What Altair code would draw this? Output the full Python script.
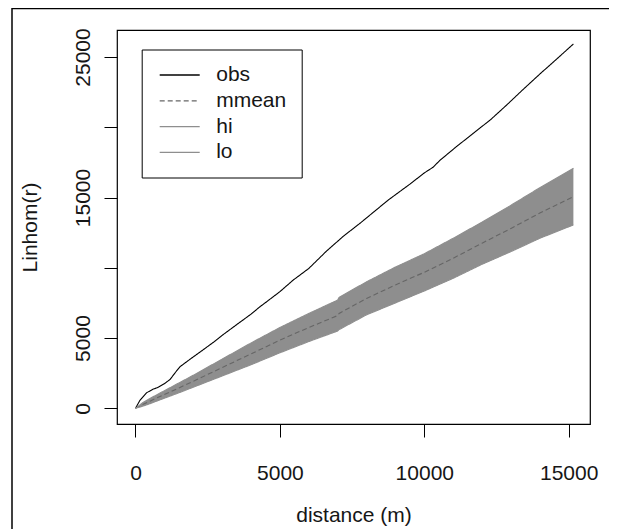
import altair as alt
import pandas as pd

# ---- data ----
obs_x = [0, 150, 388, 600, 790, 1000, 1195, 1400, 1541, 1887, 2300, 2700, 3040, 3500, 4000,
         4311, 4543, 5000, 5464, 6000, 6620, 7200, 7773, 8753, 9500, 10000, 10300, 10543,
         11100, 11697, 12300, 12853, 13400, 14007, 14500, 15162]
obs_y = [0, 550, 1110, 1350, 1500, 1750, 2050, 2600, 2960, 3487, 4100, 4700, 5250, 5950, 6700,
         7230, 7587, 8300, 9130, 9950, 11200, 12250, 13165, 14823, 15950, 16750, 17150, 17650,
         18600, 19570, 20550, 21584, 22650, 23800, 24700, 25925]

env_x = [0, 250, 500, 1000, 1500, 2000, 3000, 4000, 5000, 6000, 7000, 7050, 8000, 9000,
         10000, 11000, 12000, 13000, 14000, 15162]
env_hi = [0, 400, 700, 1250, 1800, 2350, 3500, 4650, 5750, 6750, 7700, 7900, 9000, 10050,
          11000, 12100, 13250, 14450, 15700, 17080]
env_lo = [0, 150, 330, 720, 1100, 1500, 2300, 3100, 3950, 4750, 5500, 5600, 6650, 7500,
          8350, 9250, 10250, 11150, 12100, 13050]
env_mean = [0, 270, 510, 980, 1450, 1920, 2900, 3870, 4850, 5750, 6600, 6750, 7820, 8780,
            9680, 10680, 11750, 12800, 13900, 15060]

series_names = ["obs", "mmean", "hi", "lo"]
x_ticks = [0, 5000, 10000, 15000]
y_ticks = [0, 5000, 10000, 15000, 20000, 25000]

# ---- tables ----
rows = []
for xv, yv in zip(obs_x, obs_y):
    rows.append({"series": "obs", "r": xv, "v": yv})
for xv, m, h, l in zip(env_x, env_mean, env_hi, env_lo):
    rows.append({"series": "mmean", "r": xv, "v": m})
    rows.append({"series": "hi", "r": xv, "v": h})
    rows.append({"series": "lo", "r": xv, "v": l})
lines_df = pd.DataFrame(rows)
band_df = pd.DataFrame({"r": env_x, "lo": env_lo, "hi": env_hi})

FONT = "Liberation Sans"
TXT = "#161616"
xscale = alt.Scale(domain=[-640, 15737], nice=False, zero=False)
yscale = alt.Scale(domain=[-1117, 26921], nice=False, zero=False)

xaxis = alt.Axis(values=x_ticks, title="distance (m)", grid=False, domain=False, format="d",
                 tickSize=13, tickColor="black", tickWidth=1,
                 labelFont=FONT, labelFontSize=21, labelColor=TXT,
                 labelPadding=25, labelBaseline="top", labelAlign="center",
                 labelFlush=False, labelOverlap=False,
                 titleFont=FONT, titleFontSize=21, titleFontWeight="normal", titleColor=TXT,
                 titleX=236.5, titleY=97, titleAlign="center", titleBaseline="alphabetic")
yaxis = alt.Axis(values=y_ticks, title="Linhom(r)", grid=False, domain=False, format="d",
                 tickSize=13, tickColor="black", tickWidth=1,
                 labelFont=FONT, labelFontSize=21, labelColor=TXT,
                 labelAngle=270, labelAlign="center", labelBaseline="alphabetic",
                 labelPadding=15, labelFlush=False, labelOverlap=False,
                 labelExpr="datum.value == 10000 || datum.value == 20000 ? '' : datum.label",
                 titleFont=FONT, titleFontSize=21, titleFontWeight="normal", titleColor=TXT,
                 titleAngle=270, titleX=-81, titleY=197, titleAlign="center",
                 titleBaseline="alphabetic")

band = alt.Chart(band_df).mark_area(color="#8e8e8e", opacity=1).encode(
    x=alt.X("r:Q", scale=xscale, axis=xaxis),
    y=alt.Y("lo:Q", scale=yscale, axis=yaxis),
    y2="hi:Q",
)

legend = alt.Legend(title=None, orient="none", legendX=24.7, legendY=19.5, padding=15,
                    strokeColor="black", fillColor="white",
                    symbolType="M-4,0H4", symbolSize=100, symbolStrokeWidth=1.3,
                    labelFont=FONT, labelFontSize=21, labelColor=TXT,
                    rowPadding=3.8, symbolOffset=12.5, labelOffset=26, labelLimit=300)

lines = alt.Chart(lines_df).mark_line(strokeWidth=1.1).encode(
    x=alt.X("r:Q", scale=xscale),
    y=alt.Y("v:Q", scale=yscale),
    color=alt.Color("series:N", scale=alt.Scale(domain=series_names,
                    range=["#000000", "#666666", "#8e8e8e", "#8e8e8e"]), legend=legend),
    strokeDash=alt.StrokeDash("series:N", scale=alt.Scale(domain=series_names,
                    range=[[1, 0], [5, 3], [1, 0], [1, 0]]), legend=legend),
    order=alt.Order("r:Q"),
)

frame_df = pd.DataFrame({"k": [0]})
frame_left = alt.Chart(frame_df).mark_rule(color="black", strokeWidth=1.5).encode(
    x=alt.value(-105), y=alt.value(-30), y2=alt.value(700))
frame_top = alt.Chart(frame_df).mark_rule(color="black", strokeWidth=1.5).encode(
    x=alt.value(-105), x2=alt.value(700), y=alt.value(-21.5))

chart = alt.layer(band, lines, frame_left, frame_top).properties(
    width=473, height=394,
    autosize=alt.AutoSizeParams(type="none"),
    padding={"left": 109, "top": 22, "right": 19, "bottom": 105},
).configure(background="white").configure_view(stroke="black", strokeWidth=1.2)

chart.save("out.html", embed_options={"renderer": "svg", "actions": False})
